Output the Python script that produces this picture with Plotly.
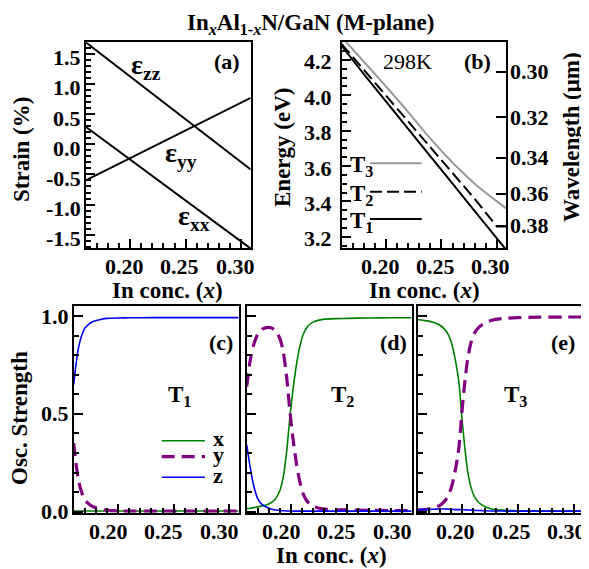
import plotly.graph_objects as go

# ---------------- data ----------------
# (a) strain vs In concentration
strain_x = [0.16, 0.3085]
eps_zz = [1.69, -0.42]
eps_yy = [-0.60, 0.77]
eps_xx = [0.29, -1.73]
strain_ticks = [-1.5, -1.0, -0.5, 0.0, 0.5, 1.0, 1.5]
strain_labels = ["-1.5", "-1.0", "-0.5", "0.0", "0.5", "1.0", "1.5"]

# (b) transition energies (eV)
en_x = [0.16, 0.18, 0.20, 0.22, 0.24, 0.26, 0.28, 0.30, 0.3085]
T1_E = [4.28, 4.12, 3.965, 3.81, 3.655, 3.50, 3.345, 3.19, 3.125]
T2_E = [4.29, 4.145, 3.998, 3.852, 3.706, 3.56, 3.414, 3.257, 3.257]
T3_E = [4.33, 4.19, 4.05, 3.905, 3.755, 3.62, 3.50, 3.40, 3.36]
energy_ticks = [3.2, 3.4, 3.6, 3.8, 4.0, 4.2]
wl_ticks = [0.30, 0.32, 0.34, 0.36, 0.38]
HC = 1.23984  # eV*um

conc_ticks = [0.20, 0.25, 0.30]
osc_ticks = [0.0, 0.5, 1.0]

# (c) T1 oscillator strengths
c_x = [0.160, 0.162, 0.164, 0.166, 0.168, 0.170, 0.173, 0.176, 0.180, 0.185, 0.190,
       0.200, 0.210, 0.230, 0.250, 0.270, 0.290, 0.3085]
c_osc_x = [0.003] * 18
c_osc_y = [0.35, 0.25, 0.17, 0.12, 0.085, 0.06, 0.042, 0.029, 0.019, 0.011, 0.006,
           0.003, 0.002, 0.002, 0.002, 0.002, 0.002, 0.002]
c_osc_z = [0.65, 0.75, 0.83, 0.88, 0.915, 0.94, 0.957, 0.97, 0.979, 0.986, 0.99,
           0.992, 0.993, 0.994, 0.994, 0.994, 0.994, 0.994]

# (d) T2 oscillator strengths
d_x = [0.160, 0.163, 0.166, 0.170, 0.174, 0.178, 0.182, 0.186, 0.190, 0.193, 0.196,
       0.199, 0.202, 0.205, 0.208, 0.211, 0.215, 0.220, 0.225, 0.230, 0.240, 0.250,
       0.270, 0.290, 0.3085]
d_osc_x = [0.015, 0.017, 0.020, 0.024, 0.029, 0.035, 0.045, 0.065, 0.11, 0.18, 0.31,
           0.49, 0.64, 0.76, 0.85, 0.91, 0.95, 0.972, 0.981, 0.986, 0.989, 0.990,
           0.992, 0.993, 0.993]
d_osc_y = [0.64, 0.77, 0.85, 0.91, 0.935, 0.943, 0.942, 0.927, 0.885, 0.816, 0.687,
           0.508, 0.358, 0.238, 0.148, 0.088, 0.048, 0.026, 0.017, 0.012, 0.009,
           0.008, 0.006, 0.005, 0.005]
d_osc_z = [0.342, 0.231, 0.14, 0.065, 0.035, 0.022, 0.013, 0.008, 0.005, 0.004, 0.003,
           0.003, 0.002, 0.002, 0.002, 0.002, 0.002, 0.002, 0.002, 0.002, 0.002,
           0.002, 0.002, 0.002, 0.002]

# (e) T3 oscillator strengths
e_x = [0.160, 0.165, 0.170, 0.175, 0.180, 0.184, 0.188, 0.191, 0.194, 0.197, 0.1995,
       0.202, 0.205, 0.208, 0.211, 0.215, 0.220, 0.225, 0.230, 0.240, 0.250, 0.270,
       0.290, 0.3085]
e_osc_x = [0.983, 0.980, 0.976, 0.968, 0.955, 0.935, 0.90, 0.85, 0.77, 0.66, 0.49,
           0.34, 0.20, 0.12, 0.075, 0.045, 0.026, 0.016, 0.010, 0.006, 0.004, 0.003,
           0.002, 0.002]
e_osc_y = [0.008, 0.010, 0.013, 0.020, 0.032, 0.052, 0.088, 0.14, 0.22, 0.33, 0.50,
           0.65, 0.79, 0.87, 0.915, 0.945, 0.965, 0.978, 0.985, 0.991, 0.994, 0.996,
           0.997, 0.997]
e_osc_z = [0.009, 0.010, 0.011, 0.012, 0.013, 0.013, 0.012, 0.011, 0.010, 0.010, 0.010,
           0.009, 0.008, 0.007, 0.006, 0.005, 0.004, 0.003, 0.003, 0.002, 0.002, 0.002,
           0.002, 0.002]

# ---------------- styling ----------------
# page body keeps its default 8px margin, so the figure is 8px smaller than the window
OFF = 8
W, H = 589 - OFF, 569 - OFF
FONT = "Liberation Serif"
GREEN, PURPLE, BLUE, GRAY = "#008000", "#800080", "#0000ff", "#999999"
TICK_SIZE = 22


def PX(px):
    return (px - OFF) / W


def PY(py):
    return 1 - (py - OFF) / H


def bold(s):
    return "<b>" + s + "</b>"


XR = [0.16, 0.3085]


def minor(dt):
    return dict(ticks="inside", ticklen=5, tickwidth=1.5, tickcolor="black",
                tickmode="linear", dtick=dt, tick0=0, showgrid=False)


def xax(domain, anchor):
    return dict(domain=domain, anchor=anchor, range=XR, showline=True, linecolor="black",
                linewidth=2, mirror=True, showgrid=False, zeroline=False,
                ticks="inside", ticklen=9, tickwidth=1.5, tickcolor="black",
                tickmode="array", tickvals=conc_ticks, showticklabels=False,
                minor=minor(0.01))


def yax(domain, anchor, rng, vals, mdt):
    return dict(domain=domain, anchor=anchor, range=rng, showline=True, linecolor="black",
                linewidth=2, mirror=True, showgrid=False, zeroline=False,
                ticks="inside", ticklen=9, tickwidth=1.5, tickcolor="black",
                tickmode="array", tickvals=vals, showticklabels=False,
                minor=minor(mdt))


top_y = [PY(248), PY(42.3)]
bot_y = [PY(512.7), PY(305.7)]

fig = go.Figure()

# (a)
for vals in (eps_zz, eps_yy, eps_xx):
    fig.add_trace(go.Scatter(x=strain_x, y=vals, mode="lines", xaxis="x", yaxis="y",
                             line=dict(color="black", width=2)))
# (b)
fig.add_trace(go.Scatter(x=en_x, y=T3_E, mode="lines", xaxis="x2", yaxis="y2",
                         line=dict(color=GRAY, width=2, shape="spline")))
fig.add_trace(go.Scatter(x=en_x, y=T2_E, mode="lines", xaxis="x2", yaxis="y2",
                         line=dict(color="black", width=2, dash="12px,5px")))
fig.add_trace(go.Scatter(x=en_x, y=T1_E, mode="lines", xaxis="x2", yaxis="y2",
                         line=dict(color="black", width=2, shape="spline")))
# invisible trace for right wavelength axis
fig.add_trace(go.Scatter(x=en_x, y=T1_E, mode="lines", xaxis="x2", yaxis="y6",
                         line=dict(color="rgba(0,0,0,0)", width=0), hoverinfo="skip"))

# (c)(d)(e)
for xa, ya, xs, ox, oy, oz in (("x3", "y3", c_x, c_osc_x, c_osc_y, c_osc_z),
                               ("x4", "y4", d_x, d_osc_x, d_osc_y, d_osc_z),
                               ("x5", "y5", e_x, e_osc_x, e_osc_y, e_osc_z)):
    fig.add_trace(go.Scatter(x=xs, y=ox, mode="lines", xaxis=xa, yaxis=ya,
                             line=dict(color=GREEN, width=1.6, shape="spline",
                                       smoothing=0.6)))
    fig.add_trace(go.Scatter(x=xs, y=oy, mode="lines", xaxis=xa, yaxis=ya,
                             line=dict(color=PURPLE, width=3.2, dash="13px,7px",
                                       shape="spline", smoothing=0.6)))
    fig.add_trace(go.Scatter(x=xs, y=oz, mode="lines", xaxis=xa, yaxis=ya,
                             line=dict(color=BLUE, width=1.6, shape="spline",
                                       smoothing=0.6)))

E_RANGE = [3.136, 4.30]
OSC_RANGE = [-0.006, 1.055]
wl_pos = [HC / w for w in wl_ticks]

fig.update_layout(
    width=W, height=H, margin=dict(l=0, r=0, t=0, b=0),
    plot_bgcolor="white", paper_bgcolor="white", showlegend=False,
    xaxis=xax([PX(85.7), PX(250.7)], "y"),
    xaxis2=xax([PX(341.7), PX(506.3)], "y2"),
    xaxis3=xax([PX(73.7), PX(238.7)], "y3"),
    xaxis4=xax([PX(246.7), PX(411.7)], "y4"),
    xaxis5=xax([PX(417.7), PX(583.3)], "y5"),
    yaxis=yax(top_y, "x", [-1.72, 1.69], strain_ticks, 0.1),
    yaxis2=yax(top_y, "x2", E_RANGE, energy_ticks, 0.05),
    yaxis6=dict(overlaying="y2", anchor="x2", side="right", range=E_RANGE,
                showline=False, showgrid=False, zeroline=False,
                ticks="inside", ticklen=10, tickwidth=1.5, tickcolor="black",
                tickmode="array", tickvals=wl_pos, showticklabels=False),
    yaxis3=yax(bot_y, "x3", OSC_RANGE, osc_ticks, 0.1),
    yaxis4=yax(bot_y, "x4", OSC_RANGE, osc_ticks, 0.1),
    yaxis5=yax(bot_y, "x5", OSC_RANGE, osc_ticks, 0.1),
)

ann = []
tfont = dict(family=FONT, size=TICK_SIZE, color="black")

# tick labels (bold), placed through the axes
for xa, ya, xsh in (("x", "y", -6), ("x2", "y2", -6), ("x3", "y3", -10),
                    ("x4", "y4", -10), ("x5", "y5", -7)):
    for v in conc_ticks:
        ann.append(dict(x=v, xref=xa, y=0, yref=ya + " domain", text=bold(f"{v:.2f}"),
                        showarrow=False, xanchor="center", yanchor="top",
                        xshift=xsh, yshift=-4, font=tfont))
for v, lab in zip(strain_ticks, strain_labels):
    ann.append(dict(x=0, xref="x domain", y=v, yref="y", text=bold(lab), showarrow=False,
                    xanchor="right", yanchor="middle", xshift=-3, yshift=-4, font=tfont))
for v in energy_ticks:
    ann.append(dict(x=0, xref="x2 domain", y=v, yref="y2", text=bold(f"{v:.1f}"),
                    showarrow=False, xanchor="right", yanchor="middle", xshift=-8,
                    yshift=-2, font=tfont))
for v, w in zip(wl_pos, wl_ticks):
    ann.append(dict(x=1, xref="x2 domain", y=v, yref="y2", text=bold(f"{w:.2f}"),
                    showarrow=False, xanchor="left", yanchor="middle", xshift=2,
                    yshift=0, font=tfont))
for v in osc_ticks:
    ann.append(dict(x=0, xref="x3 domain", y=v, yref="y3", text=bold(f"{v:.1f}"),
                    showarrow=False, xanchor="right", yanchor="middle", xshift=-3,
                    yshift=0, font=tfont))


def text(px, py, s, size=23, b=True, xanchor="center", yanchor="middle", angle=0):
    ann.append(dict(x=PX(px), y=PY(py), xref="paper", yref="paper",
                    text=bold(s) if b else s,
                    showarrow=False, xanchor=xanchor, yanchor=yanchor, textangle=angle,
                    font=dict(family=FONT, size=size, color="black")))


# title
text(311, OFF, "In<sub><i>x</i></sub>Al<sub>1-<i>x</i></sub>N/GaN (M-plane)", size=23,
     yanchor="top")
# axis titles
text(168, 290, "In conc. (<i>x</i>)", size=23)
text(424, 290, "In conc. (<i>x</i>)", size=23)
text(331, 555, "In conc. (<i>x</i>)", size=23)
text(21, 150, "Strain (%)", size=23, angle=-90)
text(283, 148, "Energy (eV)", size=23, angle=-90)
text(571, 137, "Wavelength (\u03bcm)", size=23, angle=-90)
text(19, 418, "Osc. Strength", size=23, angle=-90)
# panel labels
text(227, 62, "(a)", size=22)
text(477, 62, "(b)", size=22)
text(221, 342, "(c)", size=22)
text(393, 342, "(d)", size=22)
text(563, 342, "(e)", size=22)
text(407, 61, "298K", size=22, b=False)
# strain labels
text(146, 66, "\u03b5<sub>zz</sub>", size=28)
text(181, 154, "\u03b5<sub>yy</sub>", size=28)
text(194, 218, "\u03b5<sub>xx</sub>", size=28)
# T labels in bottom panels
text(179, 396, "T<sub>1</sub>", size=23)
text(342, 396, "T<sub>2</sub>", size=23)
text(515, 396, "T<sub>3</sub>", size=23)

# legend of (b)
shapes = []
for py, col, dash, lab in ((163.3, GRAY, "solid", "T<sub>3</sub>"),
                           (191.7, "black", "12px,5px", "T<sub>2</sub>"),
                           (219.0, "black", "solid", "T<sub>1</sub>")):
    shapes.append(dict(type="line", xref="paper", yref="paper", x0=PX(370), x1=PX(421.7),
                       y0=PY(py), y1=PY(py), line=dict(color=col, width=2, dash=dash)))
    text(362, py + 3, lab, size=23)

# legend of (c)
for py, col, dash, w, lab in ((440.7, GREEN, "solid", 1.6, "x"),
                              (456.7, PURPLE, "13px,7px", 3.2, "y"),
                              (477.3, BLUE, "solid", 1.6, "z")):
    shapes.append(dict(type="line", xref="paper", yref="paper", x0=PX(161.7), x1=PX(205),
                       y0=PY(py), y1=PY(py), line=dict(color=col, width=w, dash=dash)))
    text(211, py - 2, lab, size=22, xanchor="left")

fig.update_layout(annotations=ann, shapes=shapes)
fig.write_html("out.html")
